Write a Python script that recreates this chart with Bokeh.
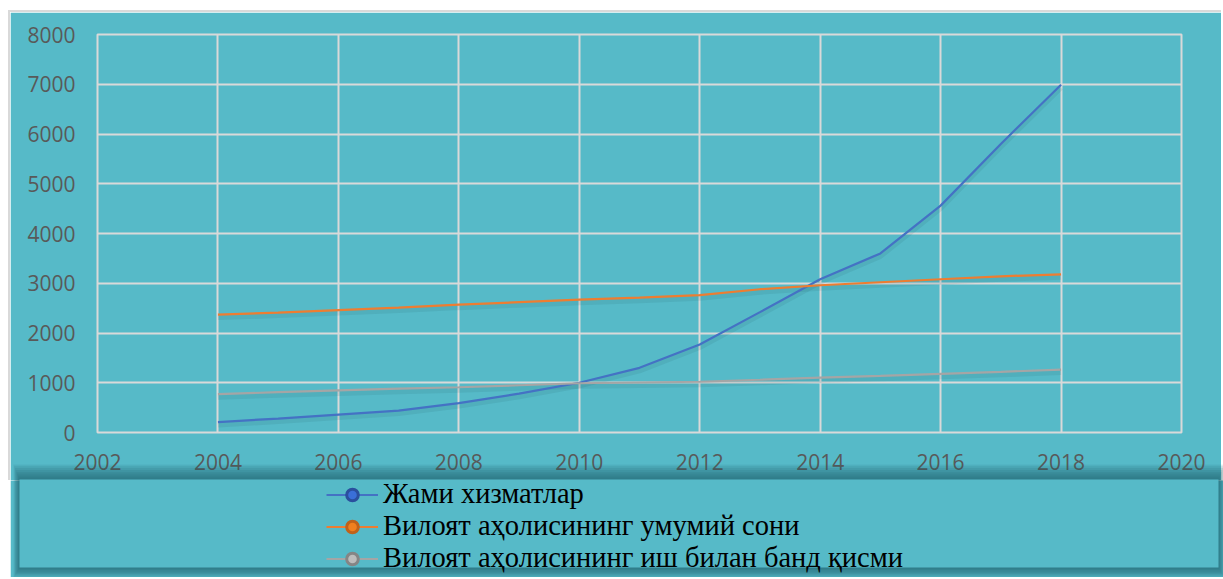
from bokeh.plotting import figure
from bokeh.models import (ColumnDataSource, FixedTicker, Legend, LegendItem,
                          BoxAnnotation, Range1d)
from bokeh.transform import dodge
from bokeh.embed import file_html
from bokeh.resources import INLINE

# ---------------- data ----------------
years = [2004, 2005, 2006, 2007, 2008, 2009, 2010, 2011, 2012, 2013, 2014,
         2015, 2016, 2017, 2018]
jami_xizmatlar = [210, 280, 360, 440, 590, 780, 1000, 1300, 1770, 2420, 3080,
                  3600, 4560, 5800, 6990]
aholi_umumiy = [2370, 2410, 2460, 2510, 2570, 2620, 2670, 2710, 2760, 2880,
                2960, 3020, 3080, 3140, 3180]
aholi_band = [770, 810, 845, 880, 910, 950, 990, 1005, 1020, 1060, 1105,
              1140, 1180, 1220, 1265]
series_names = ["Жами хизматлар",
                "Вилоят аҳолисининг умумий сони",
                "Вилоят аҳолисининг иш билан банд қисми"]
x_ticks = [2002, 2004, 2006, 2008, 2010, 2012, 2014, 2016, 2018, 2020]
y_ticks = [0, 1000, 2000, 3000, 4000, 5000, 6000, 7000, 8000]

# ---------------- style ----------------
W = 1213
H1 = 470          # chart figure height
OVERLAP = 16      # legend panel overlaps chart bottom (for its shadow)
H2 = 113          # legend panel height
BG = "#56BAC8"
GRID = "#D9D9D9"
LABEL = "#595959"
SHADOW = "#1F5C66"
colors = ["#4472C4", "#ED7D31", "#A5A5A5"]
ball_fill = ["#3A6FD8", "#F0801F", "#BDBDBD"]
ball_line = ["#2A4F9E", "#C0621A", "#858585"]
cols = ("a", "b", "c")

src = ColumnDataSource(dict(x=years, a=jami_xizmatlar, b=aholi_umumiy, c=aholi_band))

# ---------------- chart ----------------
p = figure(width=W, height=H1, output_backend="svg", toolbar_location=None,
           x_range=Range1d(2002, 2020), y_range=Range1d(0, 8000),
           min_border_left=87, min_border_right=42, min_border_top=22,
           min_border_bottom=50, margin=(10, 0, 0, 8),
           styles={"border-top": "2px solid #D9D9D9",
                   "border-left": "2px solid #D9D9D9"})
p.background_fill_color = BG
p.border_fill_color = BG
p.outline_line_color = GRID
p.outline_line_width = 2

for ax in (p.xaxis[0], p.yaxis[0]):
    ax.axis_line_color = None
    ax.major_tick_line_color = None
    ax.minor_tick_line_color = None
    ax.major_tick_out = 0
    ax.major_tick_in = 0
    ax.minor_tick_out = 0
    ax.major_label_text_font = "Open Sans"
    ax.major_label_text_font_size = "21px"
    ax.major_label_text_color = LABEL
p.xaxis.major_label_standoff = 21
p.yaxis.major_label_standoff = 22
p.xaxis.ticker = FixedTicker(ticks=x_ticks)
p.yaxis.ticker = FixedTicker(ticks=y_ticks)

p.grid.grid_line_color = GRID
p.grid.grid_line_width = 2
p.xgrid.ticker = FixedTicker(ticks=x_ticks)
p.ygrid.ticker = FixedTicker(ticks=y_ticks)

# soft line shadows
for col in cols:
    p.line(x="x", y=dodge(col, -60, range=p.y_range), source=src,
           line_color="#1B4F57", line_alpha=0.10, line_width=5)

for col, c in zip(cols, colors):
    p.line(x="x", y=col, source=src, line_color=c, line_width=2.2)

# ---------------- legend panel ----------------
q = figure(width=W, height=H2, output_backend="svg", toolbar_location=None,
           x_axis_type=None, y_axis_type=None,
           x_range=Range1d(0, 1), y_range=Range1d(0, 1),
           min_border=0, min_border_left=0, min_border_right=0,
           min_border_top=0, min_border_bottom=0,
           margin=(-OVERLAP, 0, 0, 10))
q.background_fill_alpha = 0
q.border_fill_alpha = 0
q.outline_line_color = None


def cbox(left, top, right, bottom, **kw):
    return BoxAnnotation(left=left, right=right, top=top, bottom=bottom,
                         left_units="canvas", right_units="canvas",
                         top_units="canvas", bottom_units="canvas",
                         level="underlay", **kw)

# teal background below the chart figure
q.add_layout(cbox(0, OVERLAP, W, H2, fill_color=BG, fill_alpha=1, line_color=None))
# legend box shadow
L, T, R, B = 9, 15, 1208, 103
for i in range(8, 0, -1):
    q.add_layout(cbox(L - 0.75 * i, T - 1.9 * i, R + 0.75 * i, B + 1.3 * i,
                      fill_color=SHADOW, fill_alpha=0.11, line_color=None))
q.add_layout(cbox(L, T, R, B, fill_color=BG, fill_alpha=1, line_color=None))

# legend keys: same series drawn in this panel, outside its visible range
items = []
for name, col, c, bf, bl in zip(series_names, cols, colors, ball_fill, ball_line):
    lr = q.line(x="x", y=col, source=src, line_color=c, line_width=2.2)
    sr = q.scatter(x="x", y=col, source=src, marker="circle", size=12,
                   fill_color=bf, line_color=bl, line_width=3)
    items.append(LegendItem(label=name, renderers=[lr, sr]))

legend = Legend(
    items=items, location=(316, 3), orientation="vertical",
    background_fill_alpha=0, border_line_color=None,
    padding=0, margin=0, spacing=0,
    glyph_width=52, glyph_height=29, label_height=29, label_standoff=5,
    label_text_font="Liberation Serif", label_text_font_size="28.5px",
    label_text_color="#000000", label_text_baseline="middle",
)
q.add_layout(legend, "center")

open("out.html", "w").write(file_html([p, q], INLINE))
